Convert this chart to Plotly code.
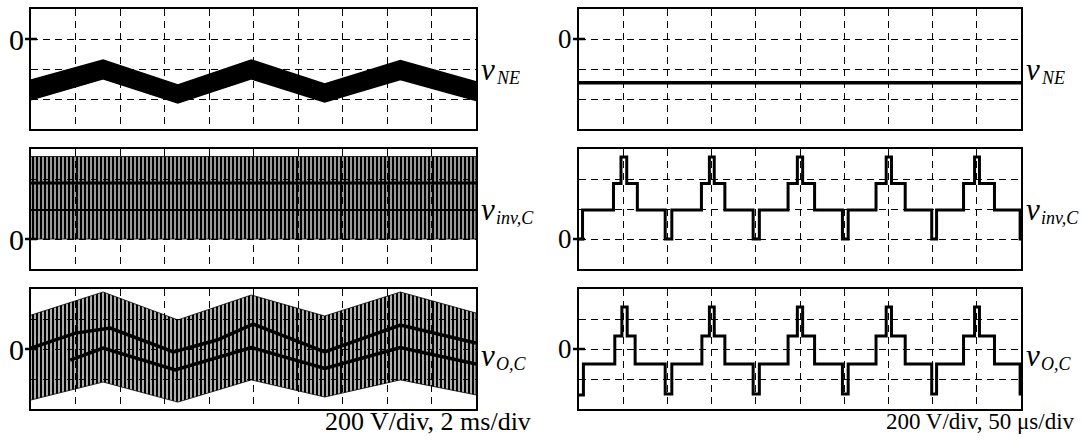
import plotly.graph_objects as go

W, H = 1082, 440

# ---------------- left column, 200 V/div, 2 ms/div ----------------
# envelope readings (time in divisions, voltage in divisions)
t_env = [0.0, 1.62, 3.30, 4.95, 6.60, 8.30, 10.0]
vne_hi = [-1.37, -0.70, -1.53, -0.70, -1.50, -0.72, -1.43]
vne_lo = [-2.03, -1.33, -2.13, -1.33, -2.10, -1.35, -2.05]

vinv_t = [0.0, 10.0]
vinv_top = [2.75, 2.75]
vinv_bot = [0.0, 0.0]
vinv_lvl1 = [0.97, 0.97]
vinv_lvl2 = [1.87, 1.87]

vo_hi = [1.13, 1.90, 0.97, 1.80, 1.10, 1.90, 1.20]
vo_lo = [-1.70, -1.10, -1.77, -1.03, -1.60, -1.03, -1.53]
vo_line_a_t = [0.0, 1.00, 1.78, 3.20, 4.18, 4.99, 6.60, 8.30, 10.0]
vo_line_a_v = [0.03, 0.53, 0.70, -0.10, 0.30, 0.83, -0.10, 0.80, 0.20]
vo_line_b_t = [0.88, 1.62, 3.24, 4.18, 4.95, 6.60, 8.30, 10.0]
vo_line_b_v = [-0.37, 0.03, -0.70, -0.30, 0.05, -0.65, 0.05, -0.50]

# ---------------- right column, 200 V/div, 50 us/div ----------------
vne_r_t = [0.0, 10.0]
vne_r_v = [-1.46, -1.46]

# step edges: time of each change and the level held after it
vinv_r_t = [0.00, 0.08, 0.78, 0.95, 1.08, 1.32, 1.95, 2.10, 2.77, 2.95, 3.06, 3.30,
            3.94, 4.08, 4.73, 4.94, 5.06, 5.33, 5.96, 6.09, 6.72, 6.95, 7.07, 7.38,
            7.98, 8.09, 8.70, 8.95, 9.06, 9.40, 9.98, 10.0]
vinv_r_v = [0.00, 0.97, 1.85, 2.73, 1.85, 0.97, 0.00, 0.97, 1.85, 2.73, 1.85, 0.97,
            0.00, 0.97, 1.85, 2.73, 1.85, 0.97, 0.00, 0.97, 1.85, 2.73, 1.85, 0.97,
            0.00, 0.97, 1.85, 2.73, 1.85, 0.97, 0.00, 0.00]

vo_r_t = [0.00, 0.10, 0.81, 0.97, 1.09, 1.27, 1.95, 2.10, 2.78, 2.95, 3.06, 3.30,
          3.94, 4.08, 4.73, 4.94, 5.06, 5.33, 5.96, 6.09, 6.72, 6.95, 7.07, 7.38,
          7.98, 8.09, 8.70, 8.95, 9.06, 9.40, 9.98, 10.0]
vo_r_v = [-1.53, -0.50, 0.43, 1.40, 0.43, -0.50, -1.50, -0.50, 0.43, 1.40, 0.43, -0.50,
          -1.50, -0.50, 0.43, 1.40, 0.43, -0.50, -1.50, -0.50, 0.43, 1.40, 0.43, -0.50,
          -1.50, -0.50, 0.43, 1.40, 0.43, -0.50, -1.50, -1.50]

# ---------------- layout geometry (pixels) ----------------
col_px = [(31, 476), (579, 1021)]
row_px = [(9, 129), (149, 269), (289, 409)]
row_range = [[-3, 1], [-1, 3], [-2, 2]]
SERIF = "Liberation Serif, Times New Roman, serif"


def xdom(a, b):
    return [a / W, b / W]


def ydom(a, b):
    return [1 - b / H, 1 - a / H]


fig = go.Figure()
layout = dict(width=W, height=H, margin=dict(l=0, r=0, t=0, b=0),
              paper_bgcolor="white", plot_bgcolor="white", showlegend=False)

axis_id = {}
k = 0
for c in range(2):
    for r in range(3):
        k += 1
        sfx = "" if k == 1 else str(k)
        axis_id[(r, c)] = ("x" + sfx, "y" + sfx)
        common = dict(showgrid=True, gridcolor="black", gridwidth=1, griddash="7px,5px",
                      showline=True, mirror=True, linecolor="black", linewidth=1.6,
                      zeroline=False, showticklabels=False, ticks="", dtick=1, tick0=0,
                      fixedrange=True)
        layout["xaxis" + sfx] = dict(common, domain=xdom(*col_px[c]), range=[0, 10],
                                     anchor="y" + sfx)
        layout["yaxis" + sfx] = dict(common, domain=ydom(*row_px[r]), range=row_range[r],
                                     anchor="x" + sfx)

fig.update_layout(**layout)


def add(r, c, **kw):
    xa, ya = axis_id[(r, c)]
    fig.add_trace(go.Scatter(xaxis=xa, yaxis=ya, hoverinfo="skip", **kw))


def stripes(solidity):
    # dense switching pulses drawn as solid vertical hatching
    return dict(shape="|", size=4, solidity=solidity, fgcolor="black", fgopacity=1,
                bgcolor="rgba(255,255,255,0)", fillmode="overlay")


# v_NE, left: noisy band
add(0, 0, x=t_env + t_env[::-1], y=vne_hi + vne_lo[::-1], mode="lines", fill="toself",
    fillcolor="black", line=dict(color="black", width=1.5))

# v_inv,C, left: switching between 0 and the top level
add(1, 0, x=vinv_t + vinv_t[::-1], y=vinv_top + vinv_bot[::-1], mode="lines", fill="toself",
    fillcolor="rgba(0,0,0,0)", fillpattern=stripes(0.7),
    line=dict(color="black", width=0.8))
add(1, 0, x=vinv_t, y=vinv_lvl1, mode="lines", line=dict(color="black", width=2))
add(1, 0, x=vinv_t, y=vinv_lvl2, mode="lines", line=dict(color="black", width=3))

# v_O,C, left
add(2, 0, x=t_env + t_env[::-1], y=vo_hi + vo_lo[::-1], mode="lines", fill="toself",
    fillcolor="rgba(0,0,0,0)", fillpattern=stripes(0.66),
    line=dict(color="black", width=0.8))
add(2, 0, x=vo_line_a_t, y=vo_line_a_v, mode="lines", line=dict(color="black", width=3.5))
add(2, 0, x=vo_line_b_t, y=vo_line_b_v, mode="lines", line=dict(color="black", width=3.5))

# right column traces
add(0, 1, x=vne_r_t, y=vne_r_v, mode="lines", line=dict(color="black", width=3.5))
add(1, 1, x=vinv_r_t, y=vinv_r_v, mode="lines", line=dict(color="black", width=3, shape="hv"))
add(2, 1, x=vo_r_t, y=vo_r_v, mode="lines", line=dict(color="black", width=3, shape="hv"))

# zero markers and channel names
zero_div = [0, 0, 0]
names = [("NE", 69), ("inv,C", 209), ("O,C", 355)]
zero_size = [30, 27]
ann = []
shapes = []
for c in range(2):
    for r in range(3):
        xa, ya = axis_id[(r, c)]
        left = col_px[c][0]
        ann.append(dict(xref="paper", yref=ya, x=(left - 5) / W, y=zero_div[r],
                        text="0", showarrow=False, xanchor="right", yanchor="middle",
                        font=dict(family=SERIF, size=zero_size[c], color="black")))
        shapes.append(dict(type="line", xref="paper", yref=ya, x0=(left - 6) / W,
                           x1=(left + 6) / W, y0=zero_div[r], y1=zero_div[r],
                           line=dict(color="black", width=2.5)))
        right = col_px[c][1]
        sub, ypx = names[r]
        ann.append(dict(xref="paper", yref="paper", x=(right + 3) / W, y=1 - ypx / H,
                        text="<i>v</i>", showarrow=False, xanchor="left", yanchor="middle",
                        font=dict(family=SERIF, size=31, color="black")))
        ann.append(dict(xref="paper", yref="paper", x=(right + 18) / W, y=1 - (ypx + 9) / H,
                        text="<i>" + sub + "</i>", showarrow=False, xanchor="left",
                        yanchor="middle", font=dict(family=SERIF, size=18, color="black")))

ann.append(dict(xref="paper", yref="paper", x=533 / W, y=1 - 421 / H,
                text="200 V/div, 2 ms/div", showarrow=False, xanchor="right",
                yanchor="middle", font=dict(family=SERIF, size=26, color="black")))
ann.append(dict(xref="paper", yref="paper", x=1077 / W, y=1 - 421 / H,
                text="200 V/div, 50 \u03bcs/div", showarrow=False, xanchor="right",
                yanchor="middle", font=dict(family=SERIF, size=23, color="black")))

fig.update_layout(annotations=ann, shapes=shapes)
fig.write_html("out.html")
